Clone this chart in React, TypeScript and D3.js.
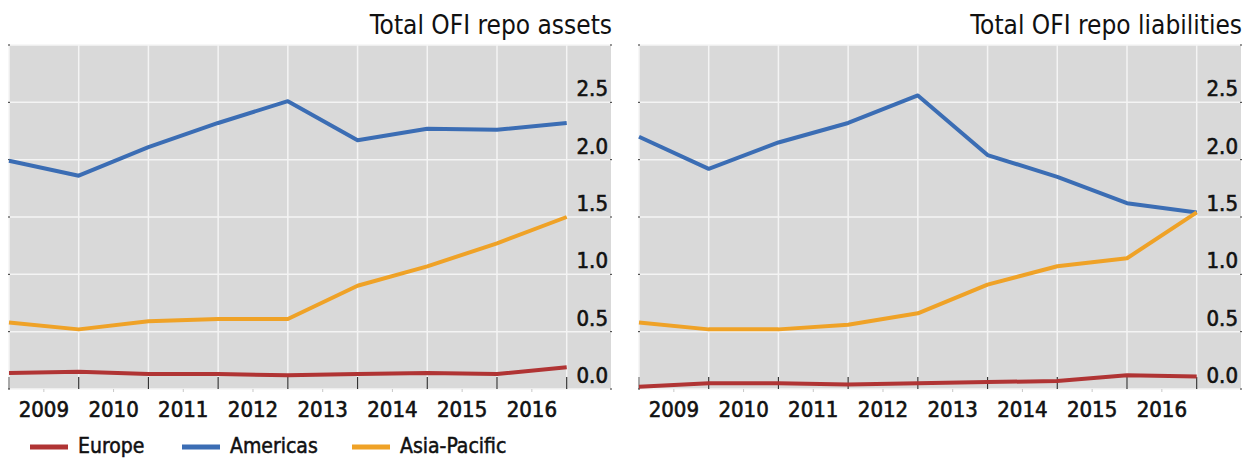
import React from "react";
import * as d3 from "d3";

// year labels sit between the year-end points
const years = ["2009", "2010", "2011", "2012", "2013", "2014", "2015", "2016"];
const yTicks = [0, 0.5, 1, 1.5, 2, 2.5];

// left panel: total OFI repo assets (9 year-end points, end-2008 .. end-2016)
const assetsEurope = [0.14, 0.15, 0.13, 0.13, 0.12, 0.13, 0.14, 0.13, 0.19];
const assetsAmericas = [1.99, 1.86, 2.11, 2.32, 2.51, 2.17, 2.27, 2.26, 2.32];
const assetsAsiaPacific = [0.58, 0.52, 0.59, 0.61, 0.61, 0.9, 1.07, 1.27, 1.5];

// right panel: total OFI repo liabilities
const liabEurope = [0.02, 0.05, 0.05, 0.04, 0.05, 0.06, 0.07, 0.12, 0.11];
const liabAmericas = [2.2, 1.92, 2.15, 2.32, 2.56, 2.04, 1.85, 1.62, 1.54];
const liabAsiaPacific = [0.58, 0.52, 0.52, 0.56, 0.66, 0.91, 1.07, 1.14, 1.54];

const seriesNames = ["Europe", "Americas", "Asia-Pacific"];
const colors = ["#b03434", "#3b6db4", "#efa227"];

const font = "'DejaVu Sans Condensed', 'Liberation Sans Narrow', 'Liberation Sans', sans-serif";

const Panel = ({ left, title, series }) => {
  const width = 602;
  const top = 45;
  const bottom = 389;
  const lastX = left + 557.7;

  const x = d3.scaleLinear().domain([0, 8]).range([left, lastX]);
  const y = d3.scaleLinear().domain([0, 3]).range([bottom, top]);
  const line = d3.line().x((d, i) => x(i)).y(d => y(d));
  const idx = d3.range(9);

  return (
    <g>
      <text x={left + width + 1} y={34} textAnchor="end" fontSize={26} fontFamily={font} fill="#111">
        {title}
      </text>
      <rect x={left} y={top} width={width} height={bottom - top} fill="#d9d9d9" />
      {/* horizontal grid */}
      {yTicks.concat([3]).map(t => (
        <line key={"h" + t} x1={left} x2={left + width} y1={y(t)} y2={y(t)} stroke="#f4f4f4" strokeWidth={1.5} />
      ))}
      {/* vertical grid */}
      {idx.map(i => (
        <line key={"v" + i} x1={x(i)} x2={x(i)} y1={top} y2={bottom} stroke="#f4f4f4" strokeWidth={1.5} />
      ))}
      {/* bottom ticks */}
      {idx.map(i => (
        <line key={"t" + i} x1={x(i)} x2={x(i)} y1={bottom - 12} y2={bottom} stroke={i === 0 ? "#777" : "#333"} strokeWidth={1.2} />
      ))}
      {years.map((yr, i) => (
        <line key={"m" + yr} x1={x(i + 0.5)} x2={x(i + 0.5)} y1={bottom} y2={bottom + 3} stroke="#c8c8c8" strokeWidth={1} />
      ))}
      {/* right axis small ticks */}
      {yTicks.concat([3]).map(t => (
        <line key={"r" + t} x1={left + width - 1} x2={left + width + 1} y1={y(t)} y2={y(t)} stroke="#333" strokeWidth={1} />
      ))}
      {yTicks.concat([3]).map(t => (
        <line key={"l" + t} x1={left - 1} x2={left + 1} y1={y(t)} y2={y(t)} stroke="#333" strokeWidth={1} />
      ))}
      {series.map((s, k) => (
        <path key={"s" + k} d={line(s)} fill="none" stroke={colors[k]} strokeWidth={4} strokeLinejoin="round" />
      ))}
      {yTicks.map(t => (
        <text key={"yl" + t} x={left + width - 3} y={y(t) - 6} textAnchor="end" fontSize={22} fontFamily={font}
          fill="#111" stroke="#111" strokeWidth={0.6}>
          {t.toFixed(1)}
        </text>
      ))}
      {years.map((yr, i) => (
        <text key={"xl" + yr} x={x(i + 0.5)} y={417} textAnchor="middle" fontSize={22} fontFamily={font}
          fill="#111" stroke="#111" strokeWidth={0.6}>
          {yr}
        </text>
      ))}
    </g>
  );
};

const legendX = [30, 182, 352];

export default function App() {
  return (
    <svg width={1254} height={459} style={{ position: "absolute", left: 0, top: 0, background: "#fff" }}>
      <Panel left={9} title="Total OFI repo assets" series={[assetsEurope, assetsAmericas, assetsAsiaPacific]} />
      <Panel left={639} title="Total OFI repo liabilities" series={[liabEurope, liabAmericas, liabAsiaPacific]} />
      {seriesNames.map((n, k) => (
        <g key={n}>
          <line x1={legendX[k]} x2={legendX[k] + 38} y1={447} y2={447} stroke={colors[k]} strokeWidth={5} />
          <text x={legendX[k] + 48} y={453} fontSize={21} fontFamily={font} fill="#111" stroke="#111" strokeWidth={0.5}>
            {n}
          </text>
        </g>
      ))}
    </svg>
  );
}
